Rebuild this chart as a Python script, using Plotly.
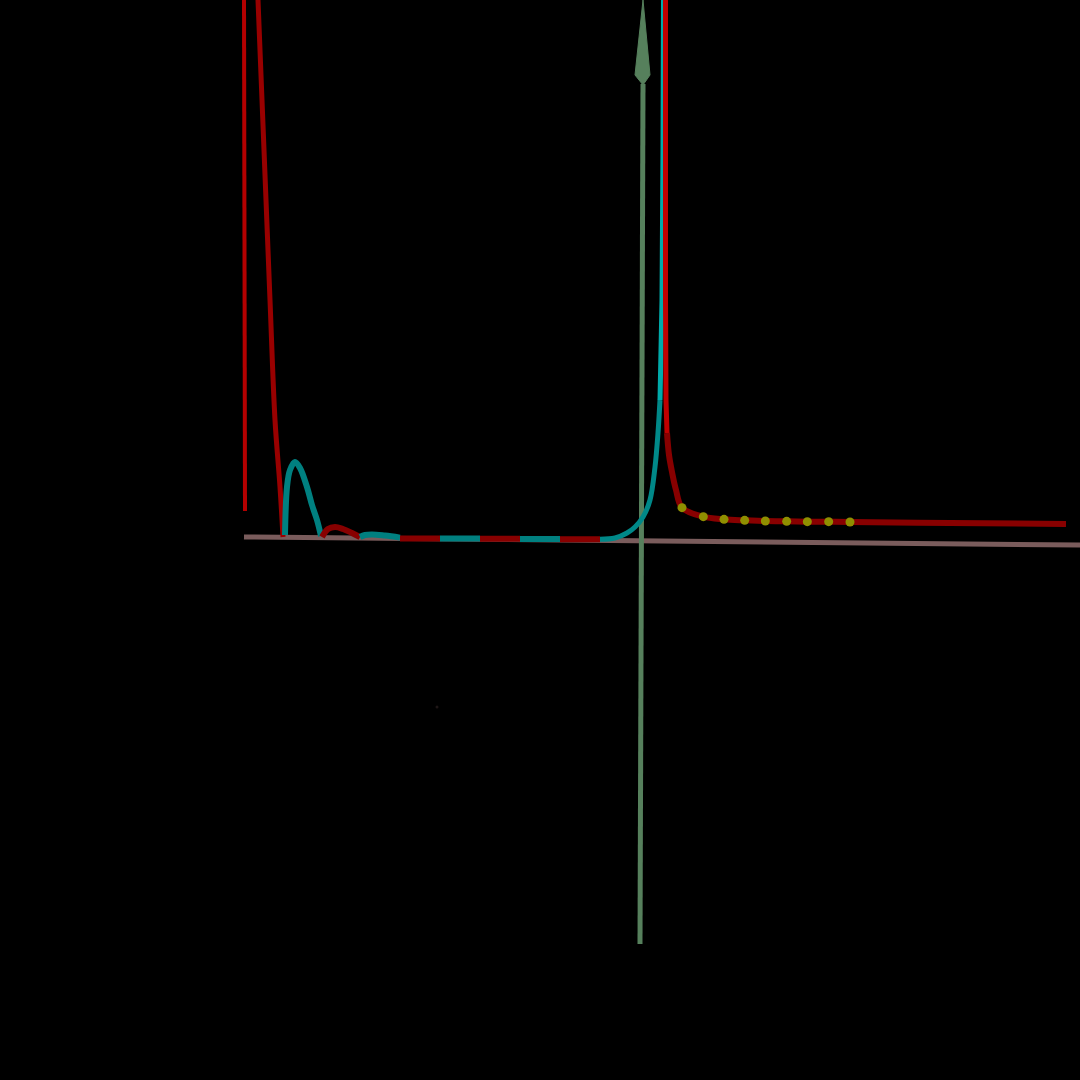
import plotly.graph_objects as go

# ---- data (math units: 1 unit = one zero-spacing) ----
# thin vertical branch at far left
left_branch_x = [-9.9, -9.875]
left_branch_y = [13.5, 0.725]

# steep red branch falling to first zero
steep_x = [-9.55, -9.45, -9.35, -9.25, -9.125, -9.0, -8.925]
steep_y = [13.5, 11.0, 8.5, 6.0, 3.0, 1.325, 0.075]

# humps between zeros
hump1_x = [-8.875, -8.825, -8.75, -8.625, -8.5, -8.325, -8.2, -8.075, -7.975]
hump1_y = [0.125, 1.325, 1.75, 1.95, 1.8, 1.325, 0.875, 0.5, 0.1]
hump2_x = [-7.95, -7.8, -7.625, -7.425, -7.2, -7.0]
hump2_y = [0.075, 0.275, 0.325, 0.275, 0.175, 0.075]
hump3_x = [-7.0, -6.875, -6.7, -6.375, -6.0]
hump3_y = [0.075, 0.125, 0.14, 0.11, 0.06]

# flat alternating segments
seg_starts = [-6.0, -5.0, -4.0, -3.0, -2.0]
seg_ends = [-5.0, -4.0, -3.0, -2.0, -1.0]
seg_values = [0.04, 0.035, 0.03, 0.025, 0.02]
seg_colors = ["#880000", "#008080", "#880000", "#008080", "#880000"]

# rising branch toward the pole
rise_x = [-1.0, -0.625, -0.325, -0.125, 0.075, 0.25, 0.375, 0.45, 0.5]
rise_y = [0.02, 0.05, 0.175, 0.325, 0.575, 1.0, 1.825, 2.675, 3.5]
rise_top_x = [0.5, 0.525, 0.55, 0.575, 0.5875]
rise_top_y = [3.5, 4.325, 6.0, 9.75, 13.5]

# decaying branch after the pole
decay_top_x = [0.6375, 0.625, 0.6375, 0.65, 0.675]
decay_top_y = [13.5, 9.75, 6.0, 3.5, 2.675]
decay_x = [0.675, 0.725, 0.8, 0.9, 1.05, 1.583, 2.1, 2.617, 3.133,
           3.667, 4.183, 4.717, 5.25, 7.75, 10.65]
decay_y = [2.675, 2.125, 1.7, 1.25, 0.808, 0.583, 0.517, 0.492, 0.475,
           0.467, 0.458, 0.458, 0.45, 0.425, 0.4]

# sample markers on decaying branch
dots_x = [1.05, 1.583, 2.1, 2.617, 3.133, 3.667, 4.183, 4.717, 5.25]
dots_y = [0.808, 0.583, 0.517, 0.492, 0.475, 0.467, 0.458, 0.458, 0.45]

# axes lines
xaxis_line_x = [-9.9, 11.0]
xaxis_line_y = [0.075, -0.125]
yaxis_line_x = [0.0, 0.075]
yaxis_line_y = [-10.1, 11.4]
arrow_x = [0.075, 0.25, 0.075, -0.125, 0.075]
arrow_y = [13.5, 11.625, 11.375, 11.625, 13.5]

stray_x = [-5.075]
stray_y = [-4.175]

fig = go.Figure()

def line(x, y, color, width, shape="linear"):
    fig.add_trace(go.Scatter(x=x, y=y, mode="lines",
                             line=dict(color=color, width=width, shape=shape),
                             hoverinfo="skip"))

# axes
line(xaxis_line_x, xaxis_line_y, "#7a5c5c", 5)
line(yaxis_line_x, yaxis_line_y, "#56805c", 5)
fig.add_trace(go.Scatter(x=arrow_x, y=arrow_y, mode="lines", fill="toself",
                         fillcolor="#56805c", line=dict(color="#56805c", width=1),
                         hoverinfo="skip"))

# curves
line(left_branch_x, left_branch_y, "#b40000", 4)
line(steep_x, steep_y, "#990000", 5, "spline")
line(hump1_x, hump1_y, "#008080", 6, "spline")
line(hump2_x, hump2_y, "#880000", 6, "spline")
line(hump3_x, hump3_y, "#008080", 6, "spline")
for s, e, v, c in zip(seg_starts, seg_ends, seg_values, seg_colors):
    line([s, e], [v, v], c, 6)
line(rise_x, rise_y, "#008888", 5, "spline")
line(rise_top_x, rise_top_y, "#00aaaa", 5)
line(decay_top_x, decay_top_y, "#c00000", 5)
line(decay_x, decay_y, "#880000", 6, "spline")

fig.add_trace(go.Scatter(x=dots_x, y=dots_y, mode="markers",
                         marker=dict(color="#8f8f00", size=9, line=dict(width=0)),
                         hoverinfo="skip"))
fig.add_trace(go.Scatter(x=stray_x, y=stray_y, mode="markers",
                         marker=dict(color="#1e1616", size=3, line=dict(width=0)),
                         hoverinfo="skip"))

fig.update_layout(
    width=1080, height=1080,
    margin=dict(l=0, r=0, t=0, b=0),
    paper_bgcolor="black", plot_bgcolor="black",
    showlegend=False,
    xaxis=dict(range=[-16, 11], visible=False, fixedrange=True),
    yaxis=dict(range=[-13.5, 13.5], visible=False, fixedrange=True),
)

fig.write_html("out.html")
